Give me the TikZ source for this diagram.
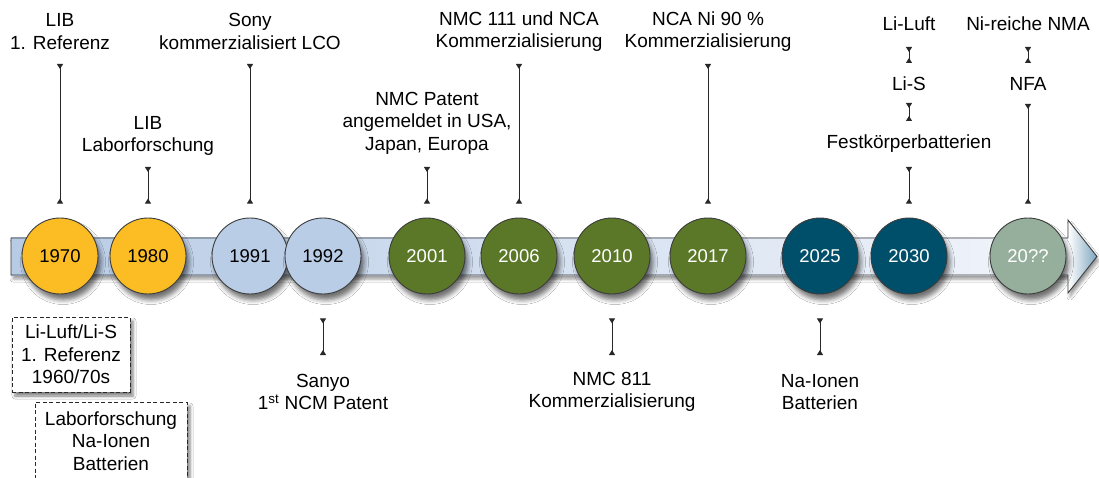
\documentclass[tikz,border=0pt]{standalone}
\usepackage{fontspec}
\setmainfont{Liberation Sans}
\usetikzlibrary{arrows.meta,shadows.blur}
\definecolor{cyellow}{RGB}{251,188,36}
\definecolor{clblue}{RGB}{185,205,230}
\definecolor{cgreen}{RGB}{91,120,40}
\definecolor{cteal}{RGB}{0,79,106}
\definecolor{cgrey}{RGB}{149,175,156}
\definecolor{outl}{RGB}{60,60,60}
\definecolor{connc}{RGB}{40,40,40}
\definecolor{barL}{RGB}{183,203,229}
\definecolor{barR}{RGB}{242,245,251}
\definecolor{headR}{RGB}{125,165,190}
\begin{document}
\begin{tikzpicture}[x=1pt,y=-1pt,
  lbl/.style={align=center,font=\fontsize{19}{22.5}\selectfont,inner sep=0pt},
  yr/.style={circle,minimum size=76pt,inner sep=0pt,draw=outl,line width=0.9pt,
    font=\fontsize{18.5}{21}\selectfont,
    blur shadow={shadow xshift=3pt,shadow yshift=-6pt,shadow blur radius=4.5pt,shadow opacity=55}},
  yrY/.style={yr,fill=cyellow,text=black},
  yrB/.style={yr,fill=clblue,text=black},
  yrG/.style={yr,fill=cgreen,text=white},
  yrT/.style={yr,fill=cteal,text=white},
  yrS/.style={yr,fill=cgrey,text=white},
  conn/.style={draw=connc,line width=1pt,
    {Triangle[reversed,width=6pt,length=5pt]}-{Triangle[reversed,width=6pt,length=5pt]}},
  dbox/.style={draw=connc,line width=0.9pt,dash pattern=on 4pt off 2.5pt,fill=white,
    align=center,font=\fontsize{19}{22.5}\selectfont,inner sep=0pt,
    blur shadow={shadow xshift=3pt,shadow yshift=-4pt,shadow blur radius=3pt,shadow opacity=50}},
  outline/.style={draw=outl,line width=0.9pt}
]
\clip (0,0) rectangle (1099,478);
\fill[white] (0,0) rectangle (1099,478);

% timeline arrow
\path[fill=white,blur shadow={shadow xshift=2pt,shadow yshift=-4pt,shadow blur radius=3pt,shadow opacity=40}]
  (11,238) -- (1068,238) -- (1068,220) -- (1097,256.5) -- (1068,293) -- (1068,275) -- (11,275) -- cycle;
\shade[left color=barL,right color=barR] (11,238) rectangle (1068,275);
\shade[left color=white,right color=headR] (1068,220) -- (1097,256.5) -- (1068,293) -- cycle;
\draw[outline] (11,238) -- (1068,238) -- (1068,220) -- (1097,256.5) -- (1068,293) -- (1068,275) -- (11,275) -- cycle;

% year circles
\node[yrY] (c1970) at (60,256) {1970};
\node[yrY] (c1980) at (148,256) {1980};
\node[yrB] (c1991) at (250,256) {1991};
\node[yrB] (c1992) at (323,256) {1992};
\node[yrG] (c2001) at (427,256) {2001};
\node[yrG] (c2006) at (519,256) {2006};
\node[yrG] (c2010) at (612,256) {2010};
\node[yrG] (c2017) at (708,256) {2017};
\node[yrT] (c2025) at (820,256) {2025};
\node[yrT] (c2030) at (909,256) {2030};
\node[yrS] (c20xx) at (1028,256) {20??};

% labels above
\node[lbl] (t1970) at (60,31.5) {LIB\\1. Referenz};
\node[lbl] (t1980) at (148,136) {LIB\\Laborforschung};
\node[lbl] (t1991) at (250,31.5) {Sony\\kommerzialisiert LCO};
\node[lbl] (t2001) at (427,123) {NMC Patent\\angemeldet in USA,\\Japan, Europa};
\node[lbl] (t2006) at (519,31.5) {NMC 111 und NCA\\Kommerzialisierung};
\node[lbl] (t2017) at (708,31.5) {NCA Ni 90 \%\\Kommerzialisierung};
\node[lbl] (tLiLuft) at (909,24) {Li-Luft};
\node[lbl] (tLiS) at (909,84) {Li-S};
\node[lbl] (tFest) at (909,144) {Festkörperbatterien};
\node[lbl] (tNMA) at (1028,24) {Ni-reiche NMA};
\node[lbl] (tNFA) at (1028,84) {NFA};

% labels below
\node[lbl] (t1992) at (323,392) {Sanyo\\1\textsuperscript{st} NCM Patent};
\node[lbl] (t2010) at (612,392) {NMC 811\\Kommerzialisierung};
\node[lbl] (t2025) at (820,392) {Na-Ionen\\Batterien};

% dashed boxes
\node[dbox,minimum width=118pt,minimum height=75pt] (b1) at (71,354.5) {Li-Luft/Li-S\\1. Referenz\\1960/70s};
\node[dbox,minimum width=152pt,minimum height=78pt] (b2) at (111,441) {Laborforschung\\Na-Ionen\\Batterien};

% connectors above
\draw[conn] (t1970.south |- 0,64) -- ([yshift=14pt]c1970.north);
\draw[conn] (t1980.south |- 0,167) -- ([yshift=14pt]c1980.north);
\draw[conn] (t1991.south |- 0,64) -- ([yshift=14pt]c1991.north);
\draw[conn] (t2001.south |- 0,167) -- ([yshift=14pt]c2001.north);
\draw[conn] (t2006.south |- 0,64) -- ([yshift=14pt]c2006.north);
\draw[conn] (t2017.south |- 0,64) -- ([yshift=14pt]c2017.north);
\draw[conn] (tFest.south |- 0,167) -- ([yshift=14pt]c2030.north);
\draw[conn] (tNFA.south |- 0,104) -- ([yshift=14pt]c20xx.north);
\draw[conn] (tLiLuft.south |- 0,47) -- (tLiS.north |- 0,63);
\draw[conn] (tLiS.south |- 0,103) -- (tFest.north |- 0,121);
\draw[conn] (tNMA.south |- 0,47) -- (tNFA.north |- 0,63);

% connectors below
\draw[conn] ([yshift=-24pt]c1992.south) -- (t1992.north |- 0,355);
\draw[conn] ([yshift=-24pt]c2010.south) -- (t2010.north |- 0,355);
\draw[conn] ([yshift=-24pt]c2025.south) -- (t2025.north |- 0,355);
\end{tikzpicture}
\end{document}
